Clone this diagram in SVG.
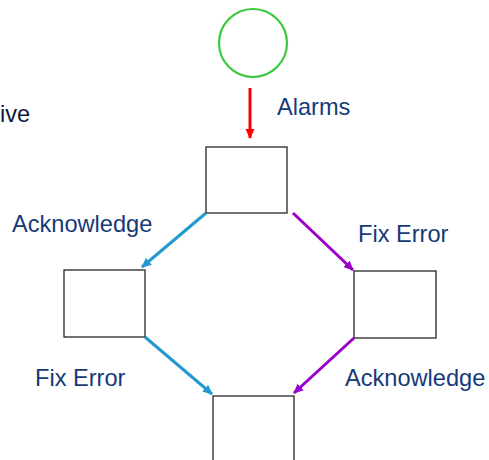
<svg xmlns="http://www.w3.org/2000/svg" width="489" height="460" viewBox="0 0 489 460">
<style>
.lbl{font-family:"Liberation Sans",Arial,sans-serif;font-size:23.6px;fill:#163a78}
.box{fill:#ffffff;stroke:#262626;stroke-width:1.3}
.c{fill:none;stroke-width:3}
</style>
<defs>
<marker id="hr" markerWidth="10" markerHeight="10" refX="9" refY="5" orient="auto" markerUnits="userSpaceOnUse"><path d="M0,0.5 L10,5 L0,9.5 Z" fill="#ff0000"/></marker>
<marker id="hb" markerWidth="10" markerHeight="10" refX="9" refY="5" orient="auto" markerUnits="userSpaceOnUse"><path d="M0,0.5 L10,5 L0,9.5 Z" fill="#2299cf"/></marker>
<marker id="hp" markerWidth="10" markerHeight="10" refX="9" refY="5" orient="auto" markerUnits="userSpaceOnUse"><path d="M0,0.5 L10,5 L0,9.5 Z" fill="#9a00cc"/></marker>
</defs>
<rect width="489" height="460" fill="#ffffff"/>
<g id="start"><circle cx="253" cy="43" r="34" fill="none" stroke="#3cc83c" stroke-width="2.2"/></g>
<g id="box1"><rect class="box" x="206" y="147" width="81" height="66"/></g>
<g id="box2"><rect class="box" x="64" y="270" width="81" height="67"/></g>
<g id="box3"><rect class="box" x="354" y="271" width="82" height="67"/></g>
<g id="box4"><rect class="box" x="213" y="396" width="81" height="70"/></g>
<g id="connectors">
<line class="c" x1="250" y1="88" x2="250" y2="138" stroke="#ff0000" stroke-width="2.5" marker-end="url(#hr)"/>
<line class="c" x1="206" y1="213" x2="142" y2="267" stroke="#2299cf" marker-end="url(#hb)"/>
<line class="c" x1="293" y1="213" x2="353" y2="270" stroke="#9a00cc" marker-end="url(#hp)"/>
<line class="c" x1="145" y1="337" x2="212" y2="394" stroke="#2299cf" marker-end="url(#hb)"/>
<line class="c" x1="354" y1="338" x2="294" y2="393" stroke="#9a00cc" marker-end="url(#hp)"/>
</g>
<g id="labels">
<text class="lbl" x="277" y="115">Alarms</text>
<text class="lbl" x="0" y="122" style="fill:#0d1b3a">ive</text>
<text class="lbl" x="12" y="232">Acknowledge</text>
<text class="lbl" x="358" y="242">Fix Error</text>
<text class="lbl" x="35" y="386">Fix Error</text>
<text class="lbl" x="345" y="386">Acknowledge</text>
</g>
</svg>
